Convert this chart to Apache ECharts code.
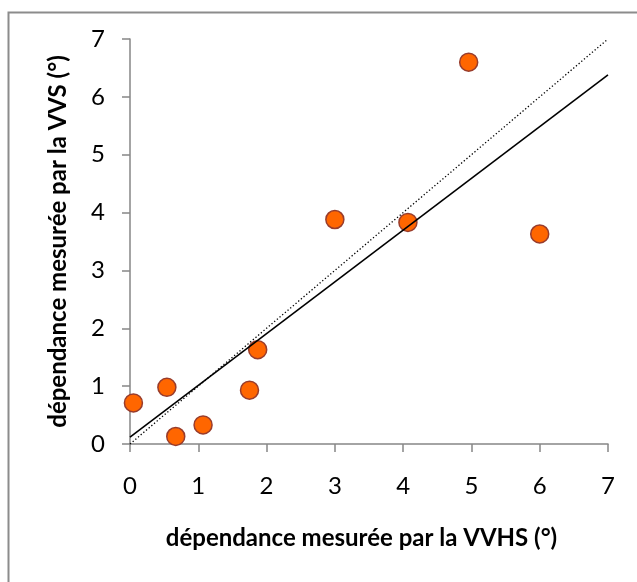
<!DOCTYPE html>
<html>
<head>
<meta charset="utf-8">
<script src="https://cdn.jsdelivr.net/npm/echarts@6/dist/echarts.min.js"></script>
<style>
  html, body { margin: 0; padding: 0; background: #fff; }
  #chart { width: 637px; height: 582px; }
</style>
</head>
<body>
<div id="chart"></div>
<script>
// Data
const vvhs = [0.05, 0.54, 0.67, 1.07, 1.75, 1.87, 3.00, 4.07, 4.96, 6.00];
const vvs  = [0.71, 0.98, 0.13, 0.33, 0.93, 1.63, 3.88, 3.83, 6.60, 3.63];
// Linear trend line (solid) endpoints as drawn
const trendX = [0, 7];
const trendY = [0.12, 6.38];
// Identity line y = x (dotted)
const identX = [0, 7];
const identY = [0, 7];
const axisTicks = [0, 1, 2, 3, 4, 5, 6, 7];
const xTitle = 'dépendance mesurée par la VVHS (°)';
const yTitle = 'dépendance mesurée par la VVS (°)';

const font = 'Lato, Carlito, Calibri, sans-serif';
const chart = echarts.init(document.getElementById('chart'), null, { renderer: 'canvas' });

const zip = (a, b) => a.map((v, i) => [v, b[i]]);

chart.setOption({
  animation: false,
  backgroundColor: '#ffffff',
  graphic: [{
    type: 'rect',
    left: 6, top: 10,
    shape: { width: 700, height: 700 },
    style: { fill: 'none', stroke: '#8c8c8c', lineWidth: 2 },
    silent: true, z: -1
  }],
  grid: { left: 130, right: 29, top: 39, bottom: 138, containLabel: false, outerBoundsMode: 'none' },
  xAxis: {
    type: 'value', min: axisTicks[0], max: axisTicks[axisTicks.length - 1], interval: 1,
    name: xTitle, nameLocation: 'middle', nameGap: 82,
    nameTextStyle: { fontFamily: font, fontWeight: 'bold', fontSize: 24, color: '#000', padding: [0, 15, 0, 0] },
    axisLine: { show: true, onZero: false, lineStyle: { color: '#868686', width: 1.5 } },
    axisTick: { show: true, inside: false, length: 8, lineStyle: { color: '#868686', width: 1.5 } },
    axisLabel: { fontFamily: font, fontSize: 24, color: '#000', margin: 30 },
    splitLine: { show: false }
  },
  yAxis: {
    type: 'value', min: axisTicks[0], max: axisTicks[axisTicks.length - 1], interval: 1,
    name: yTitle, nameLocation: 'middle', nameGap: 60, nameRotate: 90,
    nameTextStyle: { fontFamily: font, fontWeight: 'bold', fontSize: 24, color: '#000' },
    axisLine: { show: true, onZero: false, lineStyle: { color: '#868686', width: 1.5 } },
    axisTick: { show: true, inside: false, length: 8, lineStyle: { color: '#868686', width: 1.5 } },
    axisLabel: { fontFamily: font, fontSize: 24, color: '#000', margin: 25 },
    splitLine: { show: false }
  },
  series: [
    {
      type: 'scatter',
      data: zip(vvhs, vvs),
      symbol: 'circle',
      symbolSize: 18,
      itemStyle: { color: '#ff6600', opacity: 1, borderColor: '#983c2c', borderWidth: 1.5 },
      z: 2
    },
    {
      type: 'line',
      data: zip(identX, identY),
      showSymbol: false,
      lineStyle: { color: '#000', width: 1.3, type: [1.3, 2.2] },
      z: 3
    },
    {
      type: 'line',
      data: zip(trendX, trendY),
      showSymbol: false,
      lineStyle: { color: '#000', width: 1.6, type: 'solid' },
      z: 4
    }
  ]
});
</script>
</body>
</html>
